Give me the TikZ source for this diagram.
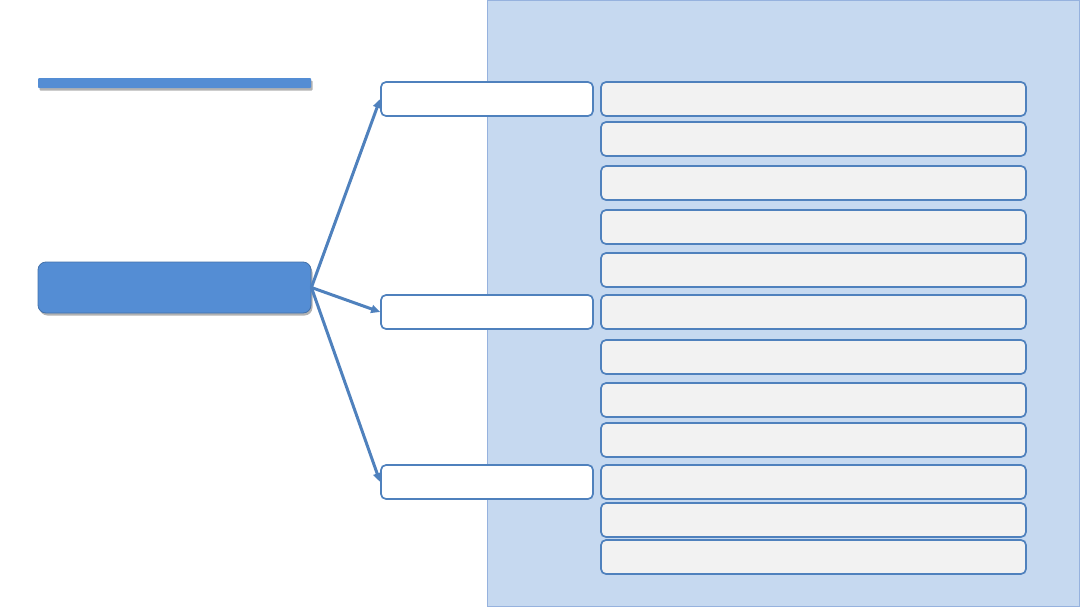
\documentclass[tikz,border=0pt]{standalone}
\usetikzlibrary{arrows.meta,shadows}

\definecolor{mainblue}{RGB}{84,141,212}
\definecolor{edgeblue}{RGB}{79,129,189}
\definecolor{panelblue}{RGB}{198,217,240}
\definecolor{paneledge}{RGB}{150,178,222}
\definecolor{itemgray}{RGB}{242,242,242}

\tikzset{
  topic/.style={draw=edgeblue,line width=1.7pt,fill=white,rounded corners=5pt,
    minimum width=212pt,minimum height=34pt,inner sep=0pt},
  item/.style={draw=edgeblue,line width=1.7pt,fill=itemgray,rounded corners=5pt,
    minimum width=425pt,minimum height=34pt,inner sep=0pt},
  branch/.style={draw=edgeblue,line width=3pt,-{Triangle[length=9pt,width=8pt]}},
  soft/.style={drop shadow={shadow xshift=1.5pt,shadow yshift=-2.5pt,fill=black,opacity=0.3}}
}

\begin{document}
\begin{tikzpicture}[x=1pt,y=-1pt]
\useasboundingbox (0,0) rectangle (1080,608);

% panel on the right
\draw[fill=panelblue,draw=paneledge,line width=1.3pt] (487.5,0) rectangle (1080,606.5);

% title bar
\node[soft,fill=mainblue,minimum width=273pt,minimum height=10pt,inner sep=0pt,
  rounded corners=1pt] (bar) at (174.5,83) {};

% root
\node[soft,fill=mainblue,draw=mainblue!80!black,line width=0.8pt,rounded corners=8pt,
  minimum width=273pt,minimum height=51pt,inner sep=0pt] (root) at (174.5,287.5) {};

% three topics
\node[topic] (t1) at (487,99) {};
\node[topic] (t2) at (487,312) {};
\node[topic] (t3) at (487,482) {};

\coordinate (fork) at (root.east);
\draw[branch] (fork) -- (t1.west);
\draw[branch] (fork) -- (t2.west);
\draw[branch] (fork) -- (t3.west);

% items
\foreach \y [count=\i] in {99,139,183,227,270,312,357,400,440,482,520,557}
  \node[item] (g\i) at (813.5,\y) {};

\end{tikzpicture}
\end{document}
